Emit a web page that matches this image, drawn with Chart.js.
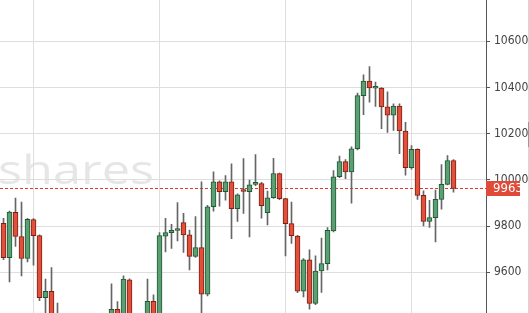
<!DOCTYPE html>
<html>
<head>
<meta charset="utf-8">
<script src="https://cdn.jsdelivr.net/npm/chart.js@4/dist/chart.umd.min.js"></script>
<style>
  html, body { margin: 0; padding: 0; background: #fff; }
  #chart { display: block; }
</style>
</head>
<body>
<canvas id="chart" width="529" height="313"></canvas>
<script>
// daily candles (the ones under the bottom edge are rough guesses)
const opens = [
    9812, 9664, 9860, 9755, 9660, 9828, 9759, 9490, 9518, 9400,
    9345, 9300, 9360, 9320, 9260, 9310, 9340, 9380, 9350, 9440,
    9395, 9568, 9400, 9370, 9395, 9474, 9410, 9757, 9772, 9781,
    9815, 9762, 9669, 9707, 9505, 9884, 9992, 9949, 9992, 9876,
    9953, 9949, 9981, 9984, 9858, 9923, 10028, 9919, 9811, 9757,
    9518, 9654, 9466, 9606, 9638, 9779, 10014, 10079, 10035, 10135,
    10365, 10428, 10397, 10398, 10316, 10280, 10320, 10212, 10053, 10132,
    9933, 9820, 9837, 9916, 9981, 10084
];
const highs = [
    9834, 9865, 9921, 9904, 9834, 9833, 9762, 9571, 9621, 9467,
    9410, 9390, 9400, 9380, 9330, 9370, 9400, 9415, 9550, 9473,
    9585, 9572, 9418, 9410, 9571, 9503, 9772, 9834, 9808, 9902,
    9855, 9783, 9841, 9992, 9890, 10035, 9996, 10019, 10070, 9940,
    10093, 9999, 10110, 9990, 9952, 10094, 10030, 9920, 9904, 9760,
    9660, 9697, 9671, 9748, 9794, 10041, 10103, 10088, 10143, 10376,
    10455, 10491, 10424, 10400, 10381, 10330, 10330, 10249, 10149, 10135,
    9953, 9912, 9956, 10067, 10106, 10088
];
const lows = [
    9655, 9559, 9712, 9585, 9645, 9631, 9477, 9410, 9370, 9320,
    9280, 9250, 9290, 9230, 9200, 9270, 9300, 9320, 9340, 9370,
    9380, 9380, 9330, 9300, 9380, 9390, 9400, 9688, 9704, 9736,
    9686, 9611, 9665, 9410, 9498, 9865, 9887, 9912, 9746, 9820,
    9855, 9753, 9975, 9835, 9805, 9920, 9915, 9671, 9725, 9512,
    9494, 9441, 9460, 9513, 9611, 9775, 10010, 10006, 9899, 10130,
    10283, 10337, 10318, 10222, 10206, 10214, 10114, 10021, 10047, 9916,
    9801, 9794, 9732, 9873, 9978, 9947
];
const closes = [
    9664, 9861, 9755, 9660, 9830, 9759, 9490, 9518, 9395, 9345,
    9300, 9360, 9320, 9260, 9310, 9340, 9380, 9350, 9440, 9395,
    9571, 9400, 9370, 9395, 9474, 9410, 9759, 9772, 9782, 9784,
    9762, 9669, 9707, 9505, 9884, 9992, 9949, 9992, 9876, 9936,
    9950, 9979, 9984, 9889, 9923, 10028, 9919, 9811, 9759, 9518,
    9654, 9466, 9606, 9638, 9782, 10014, 10079, 10035, 10135, 10365,
    10428, 10398, 10399, 10316, 10280, 10320, 10212, 10053, 10132, 9933,
    9820, 9837, 9916, 9981, 10084, 9963
];
const emptySlots = 5;              // 右側の空き
const yTicks = [9600, 9800, 10000, 10200, 10400, 10600];
const yMin = 9424, yMax = 10779;
const gridDays = [5, 26, 47, 68];  // 縦のグリッド線
const lastPrice = 9963;
const watermark = 'shares';

const upFill = '#5c9f74', upLine = '#1f5a33';
const downFill = '#e1503b', downLine = '#7f1f14';
const wickColor = '#666';
const gridColor = '#dedede';
const narrowFont = '"Liberation Sans Narrow", "DejaVu Sans Condensed", "Liberation Sans", sans-serif';

const labels = Array.from({ length: opens.length + emptySlots }, (_, i) => 'd' + (i + 1));
const isUp = closes.map((c, i) => c >= opens[i]);

const extras = {
    id: 'extras',
    beforeDraw(chart) {
        const ctx = chart.ctx;
        ctx.save();
        ctx.font = '40px "Open Sans"';
        ctx.fillStyle = '#e6e6e6';
        ctx.textBaseline = 'alphabetic';
        const w = ctx.measureText(watermark).width;
        ctx.translate(-2, 184);
        ctx.scale(156 / w, 1);
        ctx.fillText(watermark, 0, 0);
        ctx.restore();
    },
    beforeDatasetsDraw(chart) {
        const { ctx, chartArea, scales } = chart;
        const y = Math.round(scales.y.getPixelForValue(lastPrice)) + 0.5;
        ctx.save();
        ctx.strokeStyle = '#e0392c';
        ctx.lineWidth = 1;
        ctx.setLineDash([3, 2]);
        ctx.beginPath();
        ctx.moveTo(chartArea.left, y);
        ctx.lineTo(chartArea.right, y);
        ctx.stroke();
        ctx.restore();
        // ローソク足を半ピクセルずらしてくっきり描く
        ctx.save();
        ctx.translate(0.5, 0);
    },
    afterDatasetsDraw(chart) {
        chart.ctx.restore();
    },
    afterDraw(chart) {
        const { ctx, chartArea, scales } = chart;
        const y = scales.y.getPixelForValue(lastPrice);
        ctx.save();
        ctx.fillStyle = '#df4a39';
        ctx.fillRect(chartArea.right, Math.round(y - 7.5), 34, 15);
        ctx.fillStyle = '#fff';
        ctx.font = '13px ' + narrowFont;
        ctx.textBaseline = 'middle';
        ctx.fillText(String(lastPrice), chartArea.right + 7, y + 0.5);
        // 右端の細い線
        ctx.fillStyle = '#d6d6d6';
        ctx.fillRect(chart.width - 1, 0, 1, chart.height);
        ctx.fillStyle = '#9a9a9a';
        ctx.fillRect(chart.width - 1, 122, 1, 25);
        ctx.restore();
    }
};

new Chart(document.getElementById('chart'), {
    type: 'bar',
    data: {
        labels: labels,
        datasets: [
            {
                data: opens.map((o, i) => [o, closes[i]]),
                backgroundColor: isUp.map(u => u ? upFill : downFill),
                borderColor: isUp.map(u => u ? upLine : downLine),
                borderWidth: 1,
                borderSkipped: false,
                barThickness: 5,
                minBarLength: 2,
                grouped: false
            },
            {
                data: lows.map((l, i) => [l, highs[i]]),
                backgroundColor: wickColor,
                borderWidth: 0,
                barThickness: 1,
                grouped: false
            }
        ]
    },
    options: {
        responsive: false,
        animation: false,
        events: [],
        layout: { padding: 0 },
        plugins: { legend: { display: false }, tooltip: { enabled: false } },
        scales: {
            x: {
                type: 'category',
                offset: true,
                border: { display: false },
                grid: {
                    offset: false,
                    drawTicks: false,
                    color: c => gridDays.includes(c.index) ? gridColor : 'rgba(0,0,0,0)'
                },
                ticks: { display: false }
            },
            y: {
                position: 'right',
                min: yMin,
                max: yMax,
                border: { display: true, color: '#555', width: 1 },
                grid: { color: gridColor, tickColor: '#555', tickLength: 4 },
                ticks: {
                    color: '#444',
                    padding: 4,
                    font: { size: 12, family: narrowFont },
                    callback: v => String(v)
                },
                afterBuildTicks: s => { s.ticks = yTicks.map(v => ({ value: v })); },
                afterFit: s => { s.width = 43; s.paddingTop = 0; s.paddingBottom = 0; }
            }
        }
    },
    plugins: [extras]
});
</script>
</body>
</html>
